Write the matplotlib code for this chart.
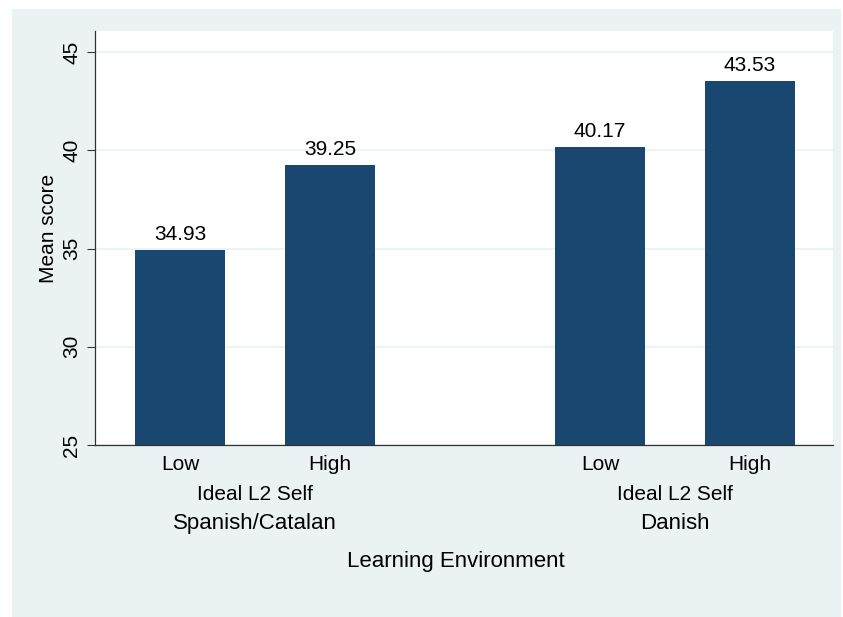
import matplotlib.pyplot as plt
from matplotlib.patches import Rectangle

# data
groups = ["Spanish/Catalan", "Danish"]
levels = ["Low", "High"]
means = [34.93, 39.25, 40.17, 43.53]
inner_label = "Ideal L2 Self"

bar_pos = [0, 1, 2.8, 3.8]
navy = "#1a476f"
bg = "#eaf2f3"

plt.rcParams['font.family'] = ['Liberation Sans', 'DejaVu Sans']

fig = plt.figure(figsize=(8.43, 6.17), dpi=100)
fig.patch.set_facecolor("white")
# stata-ish graph region, kept behind the axes
fig.patches.append(Rectangle((12 / 843, 0), 1 - 12 / 843 - 2 / 843, 1 - 9 / 617,
                             transform=fig.transFigure, facecolor=bg,
                             edgecolor="none", zorder=-10))

ax = fig.add_axes([95 / 843, (617 - 445) / 617, (833 - 95) / 843, (445 - 31) / 617])
ax.set_facecolor("white")

ax.bar(bar_pos, means, width=0.6, bottom=0, color=navy, zorder=2)
for x, v in zip(bar_pos, means):
    ax.annotate(f"{v:.2f}", (x, v), xytext=(0, 4), textcoords="offset points",
                ha="center", va="bottom", fontsize=15)

ax.set_ylim(25, 46.07)
ax.set_xlim(-0.567, 4.353)
ax.set_yticks([25, 30, 35, 40, 45])
ax.set_yticklabels(["25", "30", "35", "40", "45"], rotation=90, va="center",
                   fontsize=15)
ax.tick_params(axis="y", length=6, width=0.8, color="#333333", pad=4)
ax.set_xticks([])
ax.yaxis.grid(True, color=bg, linewidth=1.2, zorder=0)
ax.set_axisbelow(True)

for s in ["top", "right"]:
    ax.spines[s].set_visible(False)
for s in ["left", "bottom"]:
    ax.spines[s].set_color("#333333")
    ax.spines[s].set_linewidth(0.9)

ax.set_ylabel("Mean score", fontsize=15)
ax.yaxis.set_label_coords(-0.050, 0.524)

# category labels under the axis
lab_kw = dict(xycoords=("data", "axes fraction"), textcoords="offset points",
              ha="center", va="center", fontsize=15)
for i, x in enumerate(bar_pos):
    ax.annotate(levels[i % 2], (x, 0), xytext=(0, -14), **lab_kw)
for g, name in enumerate(groups):
    cx = (bar_pos[2 * g] + bar_pos[2 * g + 1]) / 2
    ax.annotate(inner_label, (cx, 0), xytext=(0, -35.5), **lab_kw)
    ax.annotate(name, (cx, 0), xytext=(0, -56.5), **dict(lab_kw, fontsize=16))

ax.annotate("Learning Environment", ((bar_pos[0] + bar_pos[-1]) / 2 - 0.06, 0),
            xytext=(0, -84), **dict(lab_kw, fontsize=16))

fig.savefig("out.png", dpi=100, facecolor=fig.get_facecolor())
